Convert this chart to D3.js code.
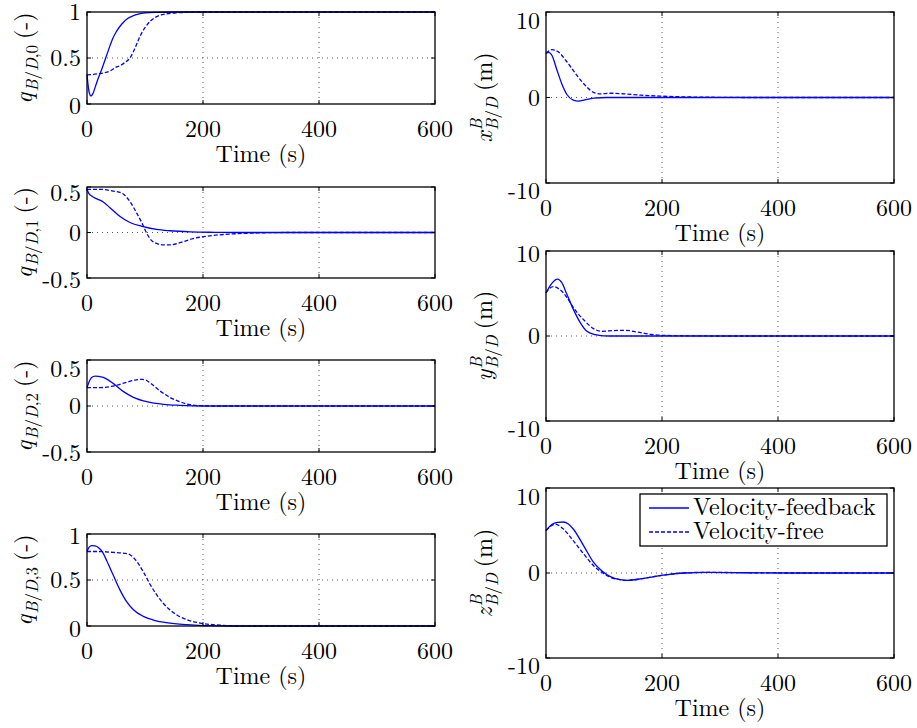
<!DOCTYPE html>
<html><head><meta charset="utf-8">
<script src="https://cdn.jsdelivr.net/npm/d3@7"></script>
<style>
body{margin:0;background:#fff}
svg{display:block}
</style>
</head><body>
<svg id="c" width="917" height="728"></svg>
<script>
// ---------------- data (time in s, value) ----------------
const timeTicks = [0, 200, 400, 600];
const timeTickLabels = ["0", "200", "400", "600"];
const quatTicksA = [0, 0.5, 1];
const quatTickLabelsA = ["0", "0.5", "1"];
const quatTicksB = [-0.5, 0, 0.5];
const quatTickLabelsB = ["-0.5", "0", "0.5"];
const posTicks = [-10, 0, 10];
const posTickLabels = ["-10", "0", "10"];
const seriesNames = ["Velocity-feedback", "Velocity-free"];

const q0Feedback = [[0,0.32],[2,0.2],[4,0.12],[7,0.087],[10,0.11],[15,0.2],[20,0.29],[25,0.37],[30,0.46],[35,0.55],[40,0.64],[45,0.72],[50,0.78],[60,0.87],[70,0.93],[80,0.96],[90,0.98],[100,0.99],[120,0.997],[150,1],[600,1]];
const q0Free = [[0,0.316],[10,0.32],[20,0.33],[30,0.34],[40,0.36],[50,0.40],[58,0.42],[65,0.45],[74,0.50],[83,0.61],[91,0.73],[100,0.83],[109,0.90],[120,0.95],[137,0.98],[160,0.993],[200,1],[600,1]];

const q1Feedback = [[0,0.475],[3,0.43],[8,0.40],[17,0.37],[28,0.336],[40,0.27],[57,0.175],[74,0.11],[97,0.065],[120,0.034],[143,0.019],[178,0.007],[220,0.002],[260,0],[600,0]];
const q1Free = [[0,0.475],[22,0.475],[45,0.455],[55,0.445],[65,0.41],[74,0.34],[86,0.21],[97,0.075],[103,-0.01],[111,-0.086],[120,-0.12],[132,-0.137],[145,-0.135],[160,-0.112],[183,-0.067],[206,-0.041],[250,-0.016],[300,-0.004],[350,0],[600,0]];

const q2Feedback = [[0,0.20],[4,0.27],[8,0.31],[14,0.325],[20,0.322],[28,0.31],[45,0.246],[63,0.156],[80,0.094],[103,0.047],[132,0.018],[160,0.007],[200,0],[600,0]];
const q2Free = [[0,0.20],[22,0.20],[45,0.217],[68,0.257],[85,0.285],[95,0.29],[102,0.28],[109,0.25],[126,0.163],[143,0.094],[160,0.047],[178,0.014],[200,0.002],[230,0],[600,0]];

const q3Feedback = [[0,0.81],[4,0.86],[8,0.874],[14,0.87],[20,0.85],[26,0.81],[34,0.71],[45,0.556],[57,0.39],[68,0.267],[80,0.177],[97,0.105],[114,0.065],[137,0.036],[172,0.014],[200,0.005],[250,0],[600,0]];
const q3Free = [[0,0.81],[20,0.81],[45,0.80],[65,0.79],[74,0.775],[86,0.70],[97,0.59],[109,0.45],[120,0.34],[137,0.21],[155,0.12],[172,0.07],[195,0.032],[218,0.014],[260,0.002],[300,0],[600,0]];

const xFeedback = [[0,5.16],[4,5.27],[10,4.96],[18,3.4],[27,1.64],[36,0.35],[47,-0.31],[56,-0.43],[67,-0.27],[82,-0.08],[105,0],[600,0]];
const xFree = [[0,5.16],[5,5.45],[10,5.6],[21,5.35],[36,4.18],[53,2.62],[70,1.25],[82,0.59],[93,0.43],[111,0.5],[134,0.43],[163,0.27],[197,0.16],[250,0.06],[300,0.02],[350,0],[600,0]];

const yFeedback = [[0,5.06],[10,6.2],[20,6.7],[27,6.3],[36,4.9],[47,3.16],[59,1.58],[70,0.59],[85,0.16],[99,0.02],[120,0],[600,0]];
const yFree = [[0,5.06],[7,5.65],[13,5.8],[24,5.45],[36,4.55],[47,3.36],[65,1.9],[82,0.87],[96,0.55],[116,0.63],[137,0.67],[157,0.47],[180,0.2],[200,0.08],[250,0.02],[300,0],[600,0]];

const zFeedback = [[0,4.98],[10,5.7],[20,5.95],[30,6.0],[38,5.8],[47,5.18],[65,3.2],[82,1.25],[96,0.27],[111,-0.43],[128,-0.78],[140,-0.86],[163,-0.7],[186,-0.43],[209,-0.2],[237,0],[278,0.08],[350,0.03],[420,0],[600,0]];
const zFree = [[0,4.98],[8,5.5],[16,5.76],[24,5.5],[30,5.18],[47,3.8],[65,2.24],[82,0.86],[96,0.08],[111,-0.5],[128,-0.8],[140,-0.86],[163,-0.7],[186,-0.43],[209,-0.2],[237,0],[278,0.08],[350,0.03],[420,0],[600,0]];

// ---------------- layout ----------------
const L = [87, 435], R = [546, 894];
const qSub = i => [["B",1],["/",0],["D",1],[","+i,0]];
const posSub = [["B",1],["/",0],["D",1]];
const panels = [
  {xr:L, yr:[12,104],  dom:[0,1],      ticks:quatTicksA, tl:quatTickLabelsA, lab:{base:"q", sub:qSub(0), unit:"(-)"}, fb:q0Feedback, fr:q0Free, ts:0,  bs:1.5},
  {xr:L, yr:[187,278], dom:[-0.5,0.5], ticks:quatTicksB, tl:quatTickLabelsB, lab:{base:"q", sub:qSub(1), unit:"(-)"}, fb:q1Feedback, fr:q1Free, ts:6,  bs:1.5},
  {xr:L, yr:[360,452], dom:[-0.5,0.5], ticks:quatTicksB, tl:quatTickLabelsB, lab:{base:"q", sub:qSub(2), unit:"(-)"}, fb:q2Feedback, fr:q2Free, ts:9,  bs:1},
  {xr:L, yr:[534,626], dom:[0,1],      ticks:quatTicksA, tl:quatTickLabelsA, lab:{base:"q", sub:qSub(3), unit:"(-)"}, fb:q3Feedback, fr:q3Free, ts:2,  bs:2.5},
  {xr:R, yr:[12,183],  dom:[-10,10],   ticks:posTicks, tl:posTickLabels, lab:{base:"x", sup:"B", sub:posSub, unit:"(m)"}, fb:xFeedback, fr:xFree, ts:9, bs:8},
  {xr:R, yr:[251,421], dom:[-10,10],   ticks:posTicks, tl:posTickLabels, lab:{base:"y", sup:"B", sub:posSub, unit:"(m)"}, fb:yFeedback, fr:yFree, ts:3, bs:8},
  {xr:R, yr:[488,658], dom:[-10,10],   ticks:posTicks, tl:posTickLabels, lab:{base:"z", sup:"B", sub:posSub, unit:"(m)"}, fb:zFeedback, fr:zFree, ts:9, bs:8, legend:true}
];

const FONT = "'Latin Modern Roman', 'Liberation Serif', serif";
const FS = 24, SUBFS = 17, BLUE = "#0000ff";
const svg = d3.select("#c").attr("font-family", FONT);
svg.append("rect").attr("width",917).attr("height",728).attr("fill","#fff");

function txt(sel){ return sel.append("text").attr("font-family", FONT).attr("fill","#000"); }

function yLabel(p){
  const cx = p.xr === L ? 32 : 492;
  const cy = (p.yr[0]+p.yr[1])/2;
  const g = svg.append("g").attr("transform",`translate(${cx},${cy}) rotate(-90)`);
  const inner = g.append("g");
  let x = 0;
  const put = (t, italic, size, dy) => {
    const el = txt(inner).attr("x",x).attr("y",dy).attr("font-size",size)
      .attr("font-style",italic?"italic":"normal").text(t);
    return el.node().getComputedTextLength();
  };
  x += put(p.lab.base, true, FS, 0) + 1;
  let w1 = 0, w2 = 0, x0 = x;
  if (p.lab.sup){ w1 = put(p.lab.sup, true, SUBFS, -10); x = x0; }
  p.lab.sub.forEach(([t,it]) => { const w = put(t, !!it, SUBFS, 6); x += w; w2 += w; });
  x = x0 + Math.max(w1, w2) + 6;
  x += put(p.lab.unit, false, FS, 0);
  inner.attr("transform",`translate(${-x/2},0)`);
}

panels.forEach(p => {
  const xs = d3.scaleLinear().domain([0,600]).range(p.xr);
  const ys = d3.scaleLinear().domain(p.dom).range([p.yr[1], p.yr[0]]);
  const g = svg.append("g");
  // grid
  timeTicks.slice(1,-1).forEach(t => g.append("line").attr("x1",xs(t)).attr("x2",xs(t))
    .attr("y1",p.yr[0]).attr("y2",p.yr[1]).attr("stroke","#444").attr("stroke-width",0.9).attr("stroke-dasharray","1,4"));
  p.ticks.slice(1,-1).forEach(v => g.append("line").attr("x1",p.xr[0]).attr("x2",p.xr[1])
    .attr("y1",ys(v)).attr("y2",ys(v)).attr("stroke","#444").attr("stroke-width",0.9).attr("stroke-dasharray","1,4"));
  // series
  const line = d3.line().x(d=>xs(d[0])).y(d=>ys(d[1])).curve(d3.curveMonotoneX);
  g.append("path").attr("d",line(p.fr)).attr("fill","none").attr("stroke",BLUE).attr("stroke-width",1.3).attr("stroke-dasharray","4,2");
  g.append("path").attr("d",line(p.fb)).attr("fill","none").attr("stroke",BLUE).attr("stroke-width",1.3);
  // box
  g.append("rect").attr("x",p.xr[0]).attr("y",p.yr[0]).attr("width",p.xr[1]-p.xr[0]).attr("height",p.yr[1]-p.yr[0])
    .attr("fill","none").attr("stroke","#000").attr("stroke-width",1.3);
  // ticks (inward, all sides)
  const tl = 4;
  timeTicks.forEach(t => {
    g.append("line").attr("x1",xs(t)).attr("x2",xs(t)).attr("y1",p.yr[1]).attr("y2",p.yr[1]-tl).attr("stroke","#000");
    g.append("line").attr("x1",xs(t)).attr("x2",xs(t)).attr("y1",p.yr[0]).attr("y2",p.yr[0]+tl).attr("stroke","#000");
  });
  p.ticks.forEach(v => {
    g.append("line").attr("x1",p.xr[0]).attr("x2",p.xr[0]+tl).attr("y1",ys(v)).attr("y2",ys(v)).attr("stroke","#000");
    g.append("line").attr("x1",p.xr[1]).attr("x2",p.xr[1]-tl).attr("y1",ys(v)).attr("y2",ys(v)).attr("stroke","#000");
  });
  // x tick labels
  timeTicks.forEach((t,i) => txt(g).attr("x",xs(t)).attr("y",p.yr[1]+33)
    .attr("text-anchor","middle").attr("font-size",FS).text(timeTickLabels[i]));
  // y tick labels
  p.ticks.forEach((v,i) => {
    const sh = i === p.ticks.length-1 ? p.ts : (i === 0 ? p.bs : 0);
    txt(g).attr("x",p.xr[0]-6).attr("y",ys(v)+8+sh)
      .attr("text-anchor","end").attr("font-size",FS).text(p.tl[i]);
  });
  // x label
  txt(g).attr("x",(p.xr[0]+p.xr[1])/2).attr("y",p.yr[1]+58)
    .attr("text-anchor","middle").attr("font-size",FS).text("Time (s)");
  yLabel(p);
  if (p.legend){
    const lg = svg.append("g");
    lg.append("rect").attr("x",640).attr("y",494).attr("width",247).attr("height",52)
      .attr("fill","#fff").attr("stroke","#000").attr("stroke-width",1.3);
    seriesNames.forEach((n,i) => {
      const y = 508 + i*24;
      lg.append("line").attr("x1",649).attr("x2",689).attr("y1",y).attr("y2",y)
        .attr("stroke",BLUE).attr("stroke-width",1.3).attr("stroke-dasharray", i ? "4,2" : null);
      txt(lg).attr("x",693).attr("y",y+7).attr("font-size",FS).text(n);
    });
  }
});
</script>
</body></html>
